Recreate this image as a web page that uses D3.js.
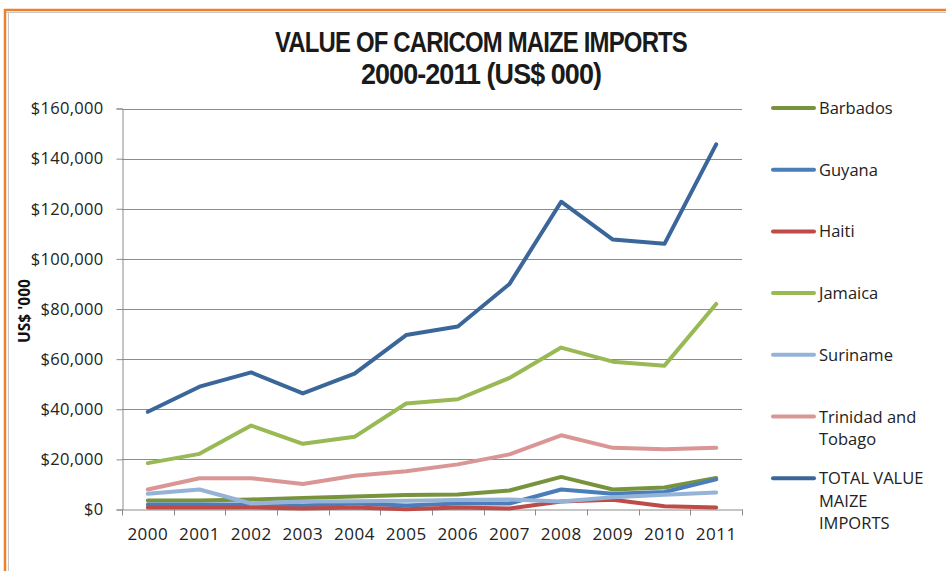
<!DOCTYPE html>
<html lang="en">
  <head>
    <title>Value of CARICOM maize imports</title>
    <script src="https://cdn.jsdelivr.net/npm/d3@7"></script>
    <style>
      body { margin: 0; background: white; }
    </style>
  </head>
  <body>
    <div id="container"></div>
  <script>
    // values in US$ '000
    const years = ["2000", "2001", "2002", "2003", "2004", "2005", "2006", "2007", "2008", "2009", "2010", "2011"];
    const barbados = [3600, 3600, 4000, 4600, 5200, 5800, 6000, 7600, 13000, 8000, 8800, 12600];
    const guyana = [2000, 2000, 2000, 1600, 2400, 1600, 2400, 2400, 8000, 6300, 7000, 12000];
    const haiti = [800, 800, 800, 400, 800, 100, 800, 400, 3200, 3900, 1300, 800];
    const jamaica = [18500, 22200, 33500, 26200, 29000, 42300, 44000, 52500, 64600, 59000, 57400, 82000];
    const suriname = [6300, 8000, 2400, 3200, 3300, 3500, 3800, 4000, 3200, 4900, 5900, 6800];
    const trinidad = [8000, 12500, 12500, 10200, 13500, 15300, 18000, 22000, 29600, 24600, 24000, 24600];
    const total = [39000, 49000, 54700, 46300, 54200, 69600, 73000, 90000, 122800, 107700, 106000, 145700];
    const yTicks = [0, 20000, 40000, 60000, 80000, 100000, 120000, 140000, 160000];

    const series = [
      {name: ["Barbados"], values: barbados, color: "#77933c"},
      {name: ["Guyana"], values: guyana, color: "#4a7ebb"},
      {name: ["Haiti"], values: haiti, color: "#be4b48"},
      {name: ["Jamaica"], values: jamaica, color: "#98b954"},
      {name: ["Suriname"], values: suriname, color: "#95b3d7"},
      {name: ["Trinidad and", "Tobago"], values: trinidad, color: "#d99694"},
      {name: ["TOTAL VALUE", "MAIZE", "IMPORTS"], values: total, color: "#3a6699"}
    ];

    const W = 946, H = 571;
    const plot = {left: 122, right: 742, top: 108.5, bottom: 509.5};
    const font = "'Open Sans', 'Noto Sans', sans-serif";

    const svg = d3.select("#container").append("svg")
      .attr("width", W).attr("height", H);

    // frame
    svg.append("line").attr("x1", 4).attr("x2", W).attr("y1", 10).attr("y2", 10)
      .attr("stroke", "#f07f2a").attr("stroke-width", 2.5);
    svg.append("line").attr("x1", 5).attr("x2", W).attr("y1", 12.5).attr("y2", 12.5)
      .attr("stroke", "#c8c8c8").attr("stroke-width", 1);
    svg.append("line").attr("x1", 5).attr("x2", 5).attr("y1", 9).attr("y2", H)
      .attr("stroke", "#f07f2a").attr("stroke-width", 2.5);
    svg.append("line").attr("x1", 8.5).attr("x2", 8.5).attr("y1", 12).attr("y2", H)
      .attr("stroke", "#c8c8c8").attr("stroke-width", 1);

    // title (condensed face squeezed with textLength)
    const titleLines = [
      {text: "VALUE OF CARICOM MAIZE IMPORTS", y: 52, len: 412},
      {text: "2000-2011 (US$ 000)", y: 84, len: 240}
    ];
    svg.append("g").selectAll("text")
      .data(titleLines)
      .join("text")
      .attr("x", 481 - 0).attr("y", d => d.y)
      .attr("text-anchor", "middle")
      .attr("textLength", d => d.len)
      .attr("lengthAdjust", "spacingAndGlyphs")
      .style("font-family", "'Liberation Sans', Arial, sans-serif")
      .style("font-size", "29px")
      .style("font-weight", "bold")
      .style("letter-spacing", "-1px")
      .attr("fill", "#1a1a1a")
      .text(d => d.text);

    const x = d3.scaleBand().domain(years).range([plot.left, plot.right]);
    const y = d3.scaleLinear().domain([0, 160000]).range([plot.bottom, plot.top]);

    // gridlines
    svg.append("g").selectAll("line")
      .data(yTicks.filter(d => d > 0))
      .join("line")
      .attr("x1", plot.left).attr("x2", plot.right)
      .attr("y1", d => Math.round(y(d)) + 0.5).attr("y2", d => Math.round(y(d)) + 0.5)
      .attr("stroke", "#8c8c8c").attr("stroke-width", 1);

    // y axis
    const yAxis = svg.append("g")
      .attr("transform", `translate(${plot.left + 0.5},0)`)
      .call(d3.axisLeft(y).tickValues(yTicks).tickSize(6).tickPadding(13)
        .tickFormat(d => "$" + d3.format(",")(d)));
    yAxis.select(".domain").attr("stroke", "#8c8c8c");
    yAxis.selectAll(".tick line").attr("stroke", "#8c8c8c");
    yAxis.selectAll(".tick text").style("font-family", font).style("font-size", "16.5px")
      .style("letter-spacing", "0.3px").attr("fill", "#222");

    // x axis
    const xAxis = svg.append("g")
      .attr("transform", `translate(0,${plot.bottom})`)
      .call(d3.axisBottom(x).tickSize(0).tickPadding(18));
    xAxis.select(".domain").attr("stroke", "#8c8c8c");
    xAxis.selectAll(".tick text").style("font-family", font).style("font-size", "17px")
      .style("letter-spacing", "0.5px").attr("fill", "#222");
    xAxis.append("g").selectAll("line")
      .data(years.map(d => x(d)).concat([plot.right]))
      .join("line")
      .attr("x1", d => Math.round(d) + 0.5).attr("x2", d => Math.round(d) + 0.5)
      .attr("y1", 0).attr("y2", 6)
      .attr("stroke", "#8c8c8c");

    svg.append("text")
      .attr("transform", "translate(30,311) rotate(-90)")
      .attr("text-anchor", "middle")
      .style("font-family", font).style("font-size", "15.5px").style("font-weight", "bold")
      .attr("fill", "#111")
      .text("US$ '000");

    // lines
    const line = d3.line()
      .x((d, i) => x(years[i]) + x.bandwidth() / 2)
      .y(d => y(d));

    svg.append("g").selectAll("path")
      .data(series)
      .join("path")
      .attr("d", d => line(d.values))
      .attr("fill", "none")
      .attr("stroke", d => d.color)
      .attr("stroke-width", 4)
      .attr("stroke-linejoin", "round")
      .attr("stroke-linecap", "round");

    // legend
    const legend = svg.append("g").selectAll("g")
      .data(series)
      .join("g")
      .attr("transform", (d, i) => `translate(773,${108 + i * 61.7})`);
    legend.append("line")
      .attr("x1", 0).attr("x2", 41)
      .attr("stroke", d => d.color).attr("stroke-width", 4).attr("stroke-linecap", "round");
    legend.append("text")
      .style("font-family", font).style("font-size", "16.5px")
      .attr("fill", "#222")
      .selectAll("tspan")
      .data(d => d.name)
      .join("tspan")
      .attr("x", 46)
      .attr("y", (d, i) => 6 + i * 22.5)
      .text(d => d);
  </script>
  </body>
</html>
